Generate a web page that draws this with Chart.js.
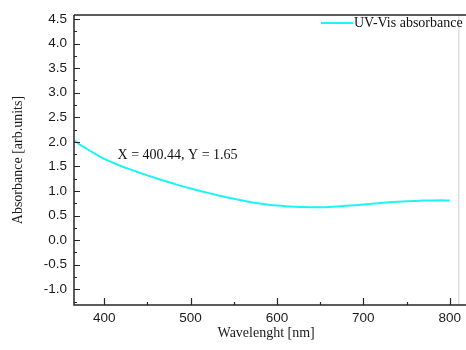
<!DOCTYPE html>
<html>
<head>
<meta charset="utf-8">
<script src="https://cdn.jsdelivr.net/npm/chart.js@4.4.1/dist/chart.umd.min.js"></script>
<style>
  html, body { margin: 0; padding: 0; background: #ffffff; }
  #wrap { width: 466px; height: 350px; position: relative; }
</style>
</head>
<body>
<div id="wrap"><canvas id="chart" width="466" height="350"></canvas></div>
<script>
// UV-Vis absorbance spectrum (wavelength in nm, absorbance in arb. units)
const wavelengths = [366, 370, 380, 390, 400.44, 410, 420, 430, 440, 450, 460, 470, 480, 490, 500,
                     510, 520, 530, 540, 550, 560, 570, 580, 590, 600, 610, 620, 630, 640, 650,
                     660, 670, 680, 690, 700, 710, 720, 730, 740, 750, 760, 770, 780, 790, 800];
const absorbance  = [2.03, 1.965, 1.855, 1.75, 1.65, 1.575, 1.505, 1.44, 1.378, 1.318, 1.26, 1.205, 1.152, 1.10, 1.052,
                     1.006, 0.962, 0.92, 0.88, 0.842, 0.806, 0.773, 0.745, 0.722, 0.703, 0.689, 0.679, 0.672, 0.669, 0.67,
                     0.676, 0.686, 0.698, 0.712, 0.727, 0.742, 0.756, 0.769, 0.781, 0.791, 0.799, 0.805, 0.809, 0.81, 0.808];

const xTickValues = [400, 500, 600, 700, 800];
const yTickValues = [-1.0, -0.5, 0.0, 0.5, 1.0, 1.5, 2.0, 2.5, 3.0, 3.5, 4.0, 4.5];

const seriesLabel = 'UV-Vis absorbance';
const markerX = 400.44;
const markerY = 1.65;

const serif = '"Liberation Serif", "Times New Roman", serif';
const sans = '"Liberation Sans", Arial, sans-serif';
const axisColor = '#262626';
const lineColor = '#1ff4f4';

// Frame, inward ticks, legend and the readout text
const framePlugin = {
  id: 'frame',
  afterDraw(chart) {
    const ctx = chart.ctx;
    const { left, right, top, bottom } = chart.chartArea;
    const xs = chart.scales.x, ys = chart.scales.y;
    ctx.save();

    // faint right border
    ctx.strokeStyle = '#cfcfcf';
    ctx.lineWidth = 1;
    ctx.beginPath();
    ctx.moveTo(right + 0.5, top);
    ctx.lineTo(right + 0.5, bottom);
    ctx.stroke();

    // axes and top line
    ctx.strokeStyle = axisColor;
    ctx.lineWidth = 1.5;
    ctx.beginPath();
    ctx.moveTo(left, top);
    ctx.lineTo(left, bottom);
    ctx.lineTo(chart.width, bottom);
    ctx.moveTo(left, top);
    ctx.lineTo(chart.width, top);
    ctx.stroke();

    // x ticks (major + minor halfway)
    ctx.lineWidth = 1.2;
    ctx.beginPath();
    xTickValues.forEach(v => {
      const px = Math.round(xs.getPixelForValue(v)) + 0.5;
      ctx.moveTo(px, bottom);
      ctx.lineTo(px, bottom - 7);
    });
    for (let i = 0; i <= xTickValues.length; i++) {
      const v = (i === 0 ? xTickValues[0] - 50 : xTickValues[i - 1] + 50);
      if (v <= xs.min || v >= xs.max) continue;
      const px = Math.round(xs.getPixelForValue(v)) + 0.5;
      ctx.moveTo(px, bottom);
      ctx.lineTo(px, bottom - 3);
    }
    // y ticks (major + minor halfway)
    yTickValues.forEach(v => {
      const py = Math.round(ys.getPixelForValue(v)) + 0.5;
      ctx.moveTo(left, py);
      ctx.lineTo(left + 6, py);
    });
    for (let i = 0; i <= yTickValues.length; i++) {
      const v = (i === 0 ? yTickValues[0] - 0.25 : yTickValues[i - 1] + 0.25);
      if (v <= ys.min || v >= ys.max) continue;
      const py = Math.round(ys.getPixelForValue(v)) + 0.5;
      ctx.moveTo(left, py);
      ctx.lineTo(left + 3, py);
    }
    ctx.stroke();

    // legend
    const ds = chart.data.datasets[0];
    ctx.strokeStyle = ds.borderColor;
    ctx.lineWidth = 2;
    ctx.beginPath();
    ctx.moveTo(321, 23);
    ctx.lineTo(353, 23);
    ctx.stroke();
    ctx.fillStyle = '#111';
    ctx.font = '14px ' + serif;
    ctx.textBaseline = 'middle';
    ctx.textAlign = 'left';
    ctx.fillText(ds.label, 354, 23);

    // readout of the marked point
    const mx = xs.getPixelForValue(markerX);
    const my = ys.getPixelForValue(markerY);
    ctx.font = '14px ' + serif;
    ctx.fillText('X = ' + markerX.toFixed(2) + ', Y = ' + markerY.toFixed(2), mx + 13, my - 4);

    ctx.restore();
  }
};

new Chart(document.getElementById('chart'), {
  type: 'line',
  data: {
    datasets: [{
      label: seriesLabel,
      data: wavelengths.map((w, i) => ({ x: w, y: absorbance[i] })),
      borderColor: lineColor,
      borderWidth: 2,
      pointRadius: 0,
      cubicInterpolationMode: 'monotone',
      fill: false
    }]
  },
  options: {
    responsive: false,
    animation: false,
    layout: { padding: { top: 12, right: 2, left: 0, bottom: 0 } },
    plugins: { legend: { display: false }, tooltip: { enabled: false } },
    scales: {
      x: {
        type: 'linear',
        min: 365,
        max: 810,
        grid: { display: false, drawTicks: false },
        border: { display: false },
        afterBuildTicks(scale) { scale.ticks = xTickValues.map(v => ({ value: v })); },
        afterFit(scale) { scale.height = 45; },
        ticks: {
          padding: 5,
          color: '#1a1a1a',
          font: { family: sans, size: 13.5 },
          maxRotation: 0,
          callback: v => String(v)
        },
        title: {
          display: true,
          text: 'Wavelenght [nm]',
          color: '#1a1a1a',
          font: { family: serif, size: 14 },
          padding: { top: 0, bottom: 8 }
        }
      },
      y: {
        type: 'linear',
        min: -1.32,
        max: 4.58,
        grid: { display: false, drawTicks: false },
        border: { display: false },
        afterBuildTicks(scale) { scale.ticks = yTickValues.map(v => ({ value: v })); },
        afterFit(scale) { scale.width = 74; },
        ticks: {
          padding: 7,
          color: '#1a1a1a',
          font: { family: sans, size: 13.5 },
          callback: v => Number(v).toFixed(1)
        },
        title: {
          display: true,
          text: 'Absorbance [arb.units]',
          color: '#1a1a1a',
          font: { family: serif, size: 14 },
          padding: { top: 10, bottom: 0 }
        }
      }
    }
  },
  plugins: [framePlugin]
});
</script>
</body>
</html>
